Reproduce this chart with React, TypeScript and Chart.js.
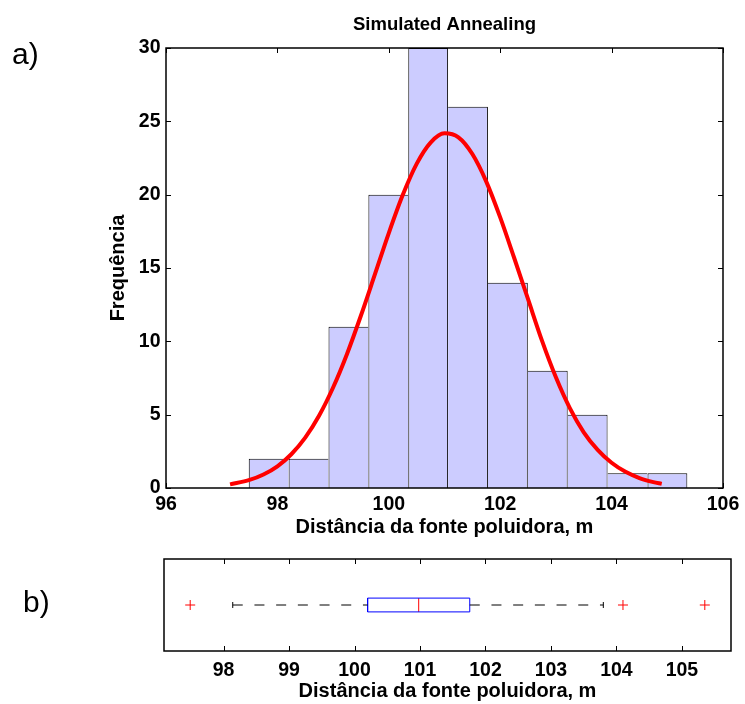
import React, { useEffect, useRef } from 'react';
import { Chart, registerables } from 'chart.js';

Chart.register(...registerables);

// ---- Histogram (panel a) ----
const BIN_CENTERS = [97.843, 98.559, 99.275, 99.991, 100.707, 101.422, 102.138, 102.854, 103.57, 104.286, 105.002];
const BIN_COUNTS = [2, 2, 11, 20, 30, 26, 14, 8, 5, 1, 1];

// fitted normal curve
const FIT_X = [97.15, 97.5, 97.75, 98.0, 98.25, 98.5, 98.75, 99.0, 99.25, 99.5, 99.75, 100.0, 100.25, 100.5, 100.75, 101.0,
  101.25, 101.5, 101.75, 102.0, 102.25, 102.5, 102.75, 103.0, 103.25, 103.5, 103.75, 104.0, 104.25, 104.5, 104.75, 104.9];
const FIT_Y = [0.25, 0.55, 0.92, 1.48, 2.3, 3.43, 4.94, 6.85, 9.14, 11.76, 14.56, 17.38, 19.97, 22.1, 23.55, 24.18,
  23.91, 22.77, 20.89, 18.45, 15.7, 12.87, 10.05, 7.55, 5.45, 3.8, 2.6, 1.72, 1.1, 0.68, 0.4, 0.28];

const HIST_X_TICKS = [96, 98, 100, 102, 104, 106];
const HIST_Y_TICKS = [0, 5, 10, 15, 20, 25, 30];

// ---- Box plot (panel b) ----
// lower whisker, Q1, median, Q3, upper whisker
const BOX_STATS = [98.14, 100.2, 100.98, 101.76, 103.8];
const OUTLIERS = [97.49, 104.1, 105.35];
const BOX_X_TICKS = [98, 99, 100, 101, 102, 103, 104, 105];
const BOX_X_RANGE = [97.09, 105.75];

const FONT = "'Liberation Sans', Arial, Helvetica, sans-serif";
const TICK_FONT = { family: FONT, size: 19.5, weight: 'bold' as const };
const LABEL_FONT = { family: FONT, size: 20, weight: 'bold' as const };

function framePlugin(withYTicks: boolean) {
  const TL = 5;
  return {
    id: 'matlabFrame',
    beforeDatasetsDraw(chart: any) {
      const { ctx, chartArea: a, scales } = chart;
      ctx.save();
      ctx.strokeStyle = '#000';
      ctx.lineWidth = 1;
      ctx.beginPath();
      for (const t of scales.x.ticks) {
        const px = Math.round(scales.x.getPixelForValue(t.value)) + 0.5;
        ctx.moveTo(px, a.top);
        ctx.lineTo(px, a.top + TL);
        ctx.moveTo(px, a.bottom);
        ctx.lineTo(px, a.bottom - TL);
      }
      if (withYTicks) {
        for (const t of scales.y.ticks) {
          const py = Math.round(scales.y.getPixelForValue(t.value)) + 0.5;
          ctx.moveTo(a.left, py);
          ctx.lineTo(a.left + TL, py);
          ctx.moveTo(a.right, py);
          ctx.lineTo(a.right - TL, py);
        }
      }
      ctx.stroke();
      ctx.restore();
    },
    afterDatasetsDraw(chart: any) {
      const { ctx, chartArea: a } = chart;
      ctx.save();
      ctx.strokeStyle = '#000';
      ctx.lineWidth = 1.5;
      ctx.strokeRect(a.left, a.top, a.right - a.left, a.bottom - a.top);
      ctx.restore();
    },
  };
}

function histConfig(): any {
  const bars = BIN_CENTERS.map((x, i) => ({ x, y: BIN_COUNTS[i] }));
  const fit = FIT_X.map((x, i) => ({ x, y: FIT_Y[i] }));
  const n = BIN_COUNTS.length;
  return {
    type: 'bar',
    data: {
      datasets: [
        {
          type: 'line',
          data: fit,
          borderColor: '#ff0000',
          borderWidth: 4,
          pointRadius: 0,
          cubicInterpolationMode: 'monotone',
          fill: false,
          order: 0,
        },
        {
          type: 'bar',
          data: bars,
          backgroundColor: 'rgb(204,204,255)',
          borderColor: '#000',
          borderWidth: (c: any) => {
            const i = c.dataIndex;
            const h = BIN_COUNTS;
            return {
              top: 1,
              bottom: 0,
              left: i === 0 || h[i] >= h[i - 1] ? 1 : 0,
              right: i === n - 1 || h[i] > h[i + 1] ? 1 : 0,
            };
          },
          borderSkipped: 'start',
          inflateAmount: 0,
          barPercentage: 1,
          categoryPercentage: 1,
          order: 1,
        },
      ],
    },
    options: {
      responsive: false,
      animation: false,
      devicePixelRatio: 1,
      events: [],
      layout: { padding: { left: 100, right: 22, top: 0, bottom: 2 } },
      plugins: {
        legend: { display: false },
        tooltip: { enabled: false },
        title: {
          display: true,
          text: 'Simulated Annealing',
          fullSize: false,
          color: '#000',
          font: { family: FONT, size: 18.5, weight: 'bold' },
          padding: { top: 13.4, bottom: 12.4 },
        },
      },
      scales: {
        x: {
          type: 'linear',
          min: 96,
          max: 106,
          offset: false,
          afterBuildTicks: (s: any) => { s.ticks = HIST_X_TICKS.map((v) => ({ value: v })); },
          afterFit: (s: any) => { s.height = 55; s.paddingLeft = 0; s.paddingRight = 0; },
          grid: { display: false, drawTicks: false },
          border: { display: false },
          ticks: { color: '#000', font: TICK_FONT, padding: 5.4, maxRotation: 0, autoSkip: false },
          title: {
            display: true,
            text: 'Distância da fonte poluidora, m',
            color: '#000',
            font: LABEL_FONT,
            padding: { top: 0, bottom: 4 },
          },
        },
        y: {
          type: 'linear',
          min: 0,
          max: 30,
          afterBuildTicks: (s: any) => { s.ticks = HIST_Y_TICKS.map((v) => ({ value: v })); },
          afterFit: (s: any) => { s.width = 66; s.paddingTop = 0; s.paddingBottom = 0; },
          grid: { display: false, drawTicks: false },
          border: { display: false },
          ticks: { color: '#000', font: TICK_FONT, padding: 5.5, autoSkip: false },
          title: {
            display: true,
            text: 'Frequência',
            color: '#000',
            font: LABEL_FONT,
            padding: { top: 6.5, bottom: 0 },
          },
        },
      },
    },
    plugins: [framePlugin(true)],
  };
}

function boxConfig(): any {
  const [wl, q1, med, q3, wh] = BOX_STATS;
  const Y = 1;
  const BH = 0.15;
  const CH = 0.065;
  const dash = [10, 11.7];
  const line = { showLine: true, pointRadius: 0, borderWidth: 1, tension: 0, fill: false };
  return {
    type: 'scatter',
    data: {
      datasets: [
        { ...line, data: [{ x: wl, y: Y }, { x: q1, y: Y }], borderColor: '#000', borderDash: dash },
        { ...line, data: [{ x: q3, y: Y }, { x: wh, y: Y }], borderColor: '#000', borderDash: dash },
        { ...line, data: [{ x: wl, y: Y - CH }, { x: wl, y: Y + CH }], borderColor: '#000' },
        { ...line, data: [{ x: wh, y: Y - CH }, { x: wh, y: Y + CH }], borderColor: '#000' },
        {
          ...line,
          data: [
            { x: q1, y: Y - BH }, { x: q3, y: Y - BH }, { x: q3, y: Y + BH }, { x: q1, y: Y + BH }, { x: q1, y: Y - BH },
          ],
          borderColor: '#0000ff',
        },
        { ...line, data: [{ x: med, y: Y - BH }, { x: med, y: Y + BH }], borderColor: '#ff0000' },
        {
          data: OUTLIERS.map((x) => ({ x, y: Y })),
          showLine: false,
          pointStyle: 'cross',
          pointRadius: 5,
          borderColor: '#ff0000',
          backgroundColor: '#ff0000',
          borderWidth: 1,
        },
      ],
    },
    options: {
      responsive: false,
      animation: false,
      devicePixelRatio: 1,
      events: [],
      layout: { padding: { left: 164, right: 14, top: 19, bottom: 0 } },
      plugins: { legend: { display: false }, tooltip: { enabled: false } },
      scales: {
        x: {
          type: 'linear',
          min: BOX_X_RANGE[0],
          max: BOX_X_RANGE[1],
          afterBuildTicks: (s: any) => { s.ticks = BOX_X_TICKS.map((v) => ({ value: v })); },
          afterFit: (s: any) => { s.height = 53; s.paddingLeft = 0; s.paddingRight = 0; },
          grid: { display: false, drawTicks: false },
          border: { display: false },
          ticks: { color: '#000', font: TICK_FONT, padding: 7.6, maxRotation: 0, autoSkip: false },
          title: {
            display: true,
            text: 'Distância da fonte poluidora, m',
            color: '#000',
            font: LABEL_FONT,
            padding: { top: 0, bottom: 1 },
          },
        },
        y: { type: 'linear', min: 0, max: 2, display: false },
      },
    },
    plugins: [framePlugin(false)],
  };
}

export default function App() {
  const topRef = useRef<HTMLCanvasElement>(null);
  const botRef = useRef<HTMLCanvasElement>(null);

  useEffect(() => {
    const c1 = new Chart(topRef.current as HTMLCanvasElement, histConfig());
    const c2 = new Chart(botRef.current as HTMLCanvasElement, boxConfig());
    return () => {
      c1.destroy();
      c2.destroy();
    };
  }, []);

  const panelLabel: React.CSSProperties = {
    position: 'absolute',
    fontFamily: FONT,
    fontSize: 30,
    lineHeight: '30px',
    color: '#000',
    fontWeight: 'normal',
  };

  return (
    <div style={{ position: 'absolute', left: 0, top: 0, width: 745, height: 704, background: '#fff' }}>
      <canvas
        ref={topRef}
        width={745}
        height={545}
        style={{ position: 'absolute', left: 0, top: 0, width: 745, height: 545 }}
      />
      <canvas
        ref={botRef}
        width={745}
        height={164}
        style={{ position: 'absolute', left: 0, top: 540, width: 745, height: 164 }}
      />
      <div style={{ ...panelLabel, left: 12, top: 38.5 }}>a)</div>
      <div style={{ ...panelLabel, left: 23, top: 587 }}>b)</div>
    </div>
  );
}
